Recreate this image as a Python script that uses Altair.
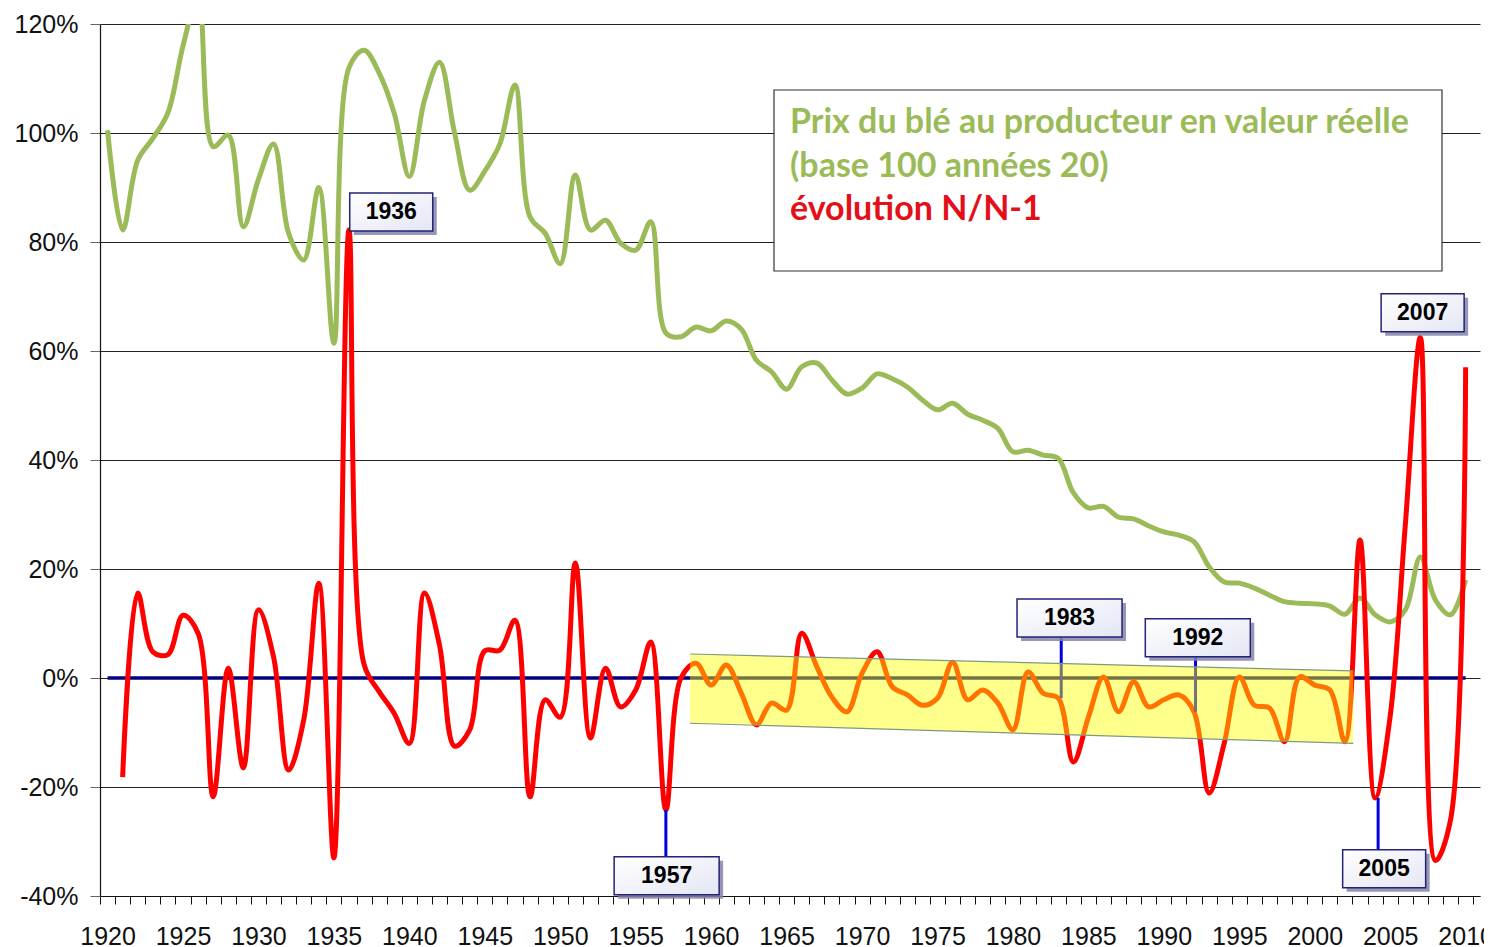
import altair as alt
import pandas as pd

# ---------------- data ----------------
years_green = list(range(1920, 2011))
green_values = [
    100.5, 82.2, 95, 99, 103.7, 116, 125, 97.5, 99.6, 82.8,        # 1920-1929
    91.5, 98, 81.6, 76.7, 90, 61.4, 112, 115.2, 111, 103.6,        # 1930-1939
    92, 106, 113, 100, 89.5, 93, 98, 108.8, 84.6, 81.6,            # 1940-1949
    76, 92.3, 82.2, 84, 79.8, 78.5, 83.7, 63.3, 62.6, 64.4,        # 1950-1959
    63.7, 65.5, 64, 58.3, 56.2, 53, 57.1, 57.8, 54.7, 52.1,        # 1960-1969
    53.2, 55.8, 54.9, 53.4, 51, 49.2, 50.4, 48.4, 47.3, 45.8,      # 1970-1979
    41.5, 41.8, 40.9, 40.3, 34, 31.2, 31.5, 29.5, 29.2, 27.9,      # 1980-1989
    26.8, 26.2, 25, 20.4, 17.6, 17.4, 16.5, 15.2, 14, 13.7,        # 1990-1999
    13.6, 13.2, 11.7, 14.7, 11.6, 10.3, 12.5, 22.2, 14.3, 11.6,    # 2000-2009
    18,                                                            # 2010
]

years_red = list(range(1921, 2011))
red_values = [
    -18.2, 15.6, 4.8, 4.3, 11.5, 8.2, -21.8, 1.8, -16.5,           # 1921-1929
    12.5, 3.9, -16.9, -7.7, 17.4, -33, 82.2, 2.5, -2.5, -6.5,      # 1930-1939
    -12, 15.6, 6, -12.5, -9.5, 5, 5.1, 10.6, -21.8, -4,            # 1940-1949
    -7.2, 21.1, -11, 1.8, -5.3, -2.2, 6.6, -24.2, 0, 2.7,          # 1950-1959
    -1.3, 2.4, -2.8, -8.6, -4.6, -5.9, 8.2, 2.1, -3.5, -6.2,       # 1960-1969
    0.9, 4.8, -1.6, -3.1, -5, -3.7, 2.9, -4, -2.2, -4.6,           # 1970-1979
    -9.5, 1.1, -2.8, -3.7, -15.4, -7.2, 0.2, -6.2, -0.7, -5.3,     # 1980-1989
    -4, -3.1, -6.2, -21.1, -12, 0.2, -5, -5.5, -11.7, 0.2,         # 1990-1999
    -1.3, -2.2, -11.7, 25.3, -22, -7, 28, 62.5, -33.5, -26,        # 2000-2009
    57,                                                            # 2010
]

# yellow trend band (start / end)
band_x = [1958.6, 2002.55]
band_top = [4.4, 1.3]
band_bottom = [-8.3, -12.0]

# annotations: label, point (x, value), box centre (x, value)
ann_labels = ["1936", "1957", "1983", "1992", "2005", "2007"]
ann_px = [1936, 1957, 1983.2, 1992.1, 2004.2, 2007]
ann_py = [82.2, -24.2, -3.7, -6.2, -22.0, 62.5]
ann_bx = [1938.8, 1957.05, 1983.75, 1992.25, 2004.6, 2007.15]
ann_by = [85.5, -36.3, 11.0, 7.4, -35.0, 67.0]
ann_edge = [85.5, -32.8, 7.5, 4.0, -31.6, 67.0]   # box edge reached by connector
ann_wide = [False, True, True, True, False, False]
ann_conn = [False, True, True, True, True, False]

legend_lines = ["Prix du blé au producteur en valeur réelle",
                "(base 100 années 20)",
                "évolution N/N-1"]
legend_colors = ["#9BBB59", "#9BBB59", "#E3101A"]

x_ticks = [y + 0.5 for y in range(1919, 2011)]
y_ticks = [-40, -20, 0, 20, 40, 60, 80, 100, 120]

# ---------------- frames ----------------
df_green = pd.DataFrame({"year": years_green, "value": green_values})
df_red = pd.DataFrame({"year": years_red, "value": red_values})
df_zero = pd.DataFrame({"x1": [years_green[0]], "x2": [years_green[-1]], "y": [0]})
df_band = pd.DataFrame({"x": band_x, "top": band_top, "bottom": band_bottom})
df_ann = pd.DataFrame({"label": ann_labels, "px": ann_px, "py": ann_py,
                       "bx": ann_bx, "by": ann_by, "edge": ann_edge,
                       "wide": ann_wide, "conn": ann_conn})

PX_PER_YEAR = 15.09
W = 1380
H = 872
x_end = 1919.5 + W / PX_PER_YEAR

xs = alt.Scale(domain=[1919.5, x_end], nice=False, zero=False)
ys = alt.Scale(domain=[-40, 120], nice=False, zero=False)

xaxis = alt.Axis(values=x_ticks, title="", grid=False,
                 labelExpr="(datum.value + 0.5) % 5 == 0 ? toString(datum.value + 0.5) : ''",
                 labelOffset=PX_PER_YEAR / 2, labelFlush=False, labelOverlap=False,
                 labelAngle=0, labelFont="Liberation Sans", labelFontSize=25,
                 labelColor="#111111", labelPadding=20, tickSize=8, tickColor="#111111",
                 tickWidth=1, domainColor="#111111", domainWidth=1.2)
yaxis = alt.Axis(values=y_ticks, title="", grid=True, gridColor="#222222",
                 gridWidth=1, labelExpr="datum.value + '%'",
                 labelFont="Liberation Sans", labelFontSize=25, labelColor="#111111",
                 labelPadding=12, tickSize=10, tickColor="#666666",
                 domainColor="#111111", domainWidth=1.2)


def X(f):
    return alt.X(f, type="quantitative", scale=xs, axis=xaxis)


def Y(f):
    return alt.Y(f, type="quantitative", scale=ys, axis=yaxis)


green_line = alt.Chart(df_green).mark_line(
    color="#9BBB59", strokeWidth=5, interpolate="catmull-rom", clip=True
).encode(x=X("year"), y=Y("value"))

zero_line = alt.Chart(df_zero).mark_rule(color="#000080", strokeWidth=3.5).encode(
    x=X("x1"), x2="x2", y=Y("y"))

red_line = alt.Chart(df_red).mark_line(
    color="#FF0000", strokeWidth=5, interpolate="catmull-rom", clip=True
).encode(x=X("year"), y=Y("value"))

connectors = alt.Chart(df_ann).transform_filter("datum.conn").mark_rule(
    color="#0000E0", strokeWidth=3).encode(x=X("px"), y=Y("py"), y2="edge")

band_area = alt.Chart(df_band).mark_area(fill="#FFFF00", fillOpacity=0.45).encode(
    x=X("x"), y=Y("top"), y2="bottom")
band_top_line = alt.Chart(df_band).mark_line(color="#7E9A7E", strokeWidth=1.2).encode(
    x=X("x"), y=Y("top"))
band_bot_line = alt.Chart(df_band).mark_line(color="#7E9A7E", strokeWidth=1.2).encode(
    x=X("x"), y=Y("bottom"))

box_fill = alt.Gradient(gradient="linear",
                        stops=[alt.GradientStop(color="#FFFFFF", offset=0),
                               alt.GradientStop(color="#E4E6F4", offset=1)],
                        x1=0, x2=1, y1=0, y2=1)

layers = [green_line, zero_line, red_line, connectors, band_area,
          band_top_line, band_bot_line]

for wide, bw in [(False, 83), (True, 105)]:
    flt = "datum.wide" if wide else "!datum.wide"
    shadow = alt.Chart(df_ann).transform_filter(flt).mark_rect(
        width=bw, height=38, fill="#8585A8", opacity=0.85, xOffset=4, yOffset=4
    ).encode(x=X("bx"), y=Y("by"))
    box = alt.Chart(df_ann).transform_filter(flt).mark_rect(
        width=bw, height=38, fill=box_fill, stroke="#23237A", strokeWidth=1.5
    ).encode(x=X("bx"), y=Y("by"))
    layers += [shadow, box]

ann_text = alt.Chart(df_ann).mark_text(
    font="Liberation Sans", fontWeight="bold", fontSize=23, color="#000000",
    align="center", baseline="middle"
).encode(x=X("bx"), y=Y("by"), text="label:N")
layers.append(ann_text)

# legend box (pixel placement inside the plot area)
legend_box = alt.Chart(alt.Data(values=[{}])).mark_rect(
    fill="#FFFFFF", stroke="#333333", strokeWidth=1.2
).encode(x=alt.value(674), x2=alt.value(1342), y=alt.value(66), y2=alt.value(247))
layers.append(legend_box)

for i, (txt, col) in enumerate(zip(legend_lines, legend_colors)):
    layers.append(
        alt.Chart(alt.Data(values=[{"t": txt}])).mark_text(
            font="Lato", fontWeight="bold", fontSize=34, align="left",
            baseline="alphabetic", color=col
        ).encode(x=alt.value(690), y=alt.value(109 + 43.5 * i), text="t:N")
    )

chart = alt.layer(*layers).properties(
    width=W, height=H,
    autosize=alt.AutoSizeParams(type="none"),
    padding={"left": 92, "top": 16, "right": 4, "bottom": 54},
    background="#FFFFFF",
).configure_view(stroke="transparent", strokeOpacity=0)

chart.save("out.html", embed_options={"renderer": "svg", "actions": False})
